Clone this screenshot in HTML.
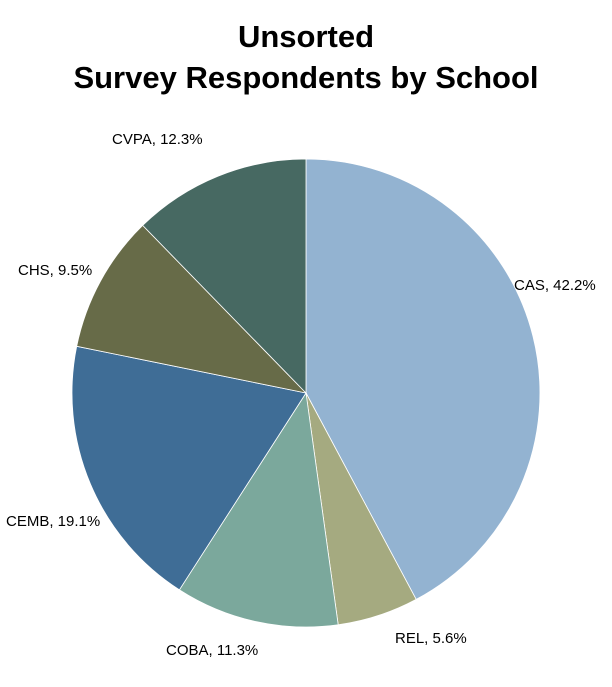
<!DOCTYPE html>
<html><head><meta charset="utf-8"><style>
html,body{margin:0;padding:0;background:#fff;}
svg{display:block;}
text{font-family:"Liberation Sans","DejaVu Sans",sans-serif;fill:#000;}
</style></head><body>
<svg width="612" height="687" viewBox="0 0 612 687" xmlns="http://www.w3.org/2000/svg">
<rect width="612" height="687" fill="#fff"/>
<text x="306" y="47" text-anchor="middle" font-size="31" font-weight="bold">Unsorted</text>
<text x="306" y="88" text-anchor="middle" font-size="31" font-weight="bold">Survey Respondents by School</text>
<g stroke="#fff" stroke-width="0.8">
<path d="M306,393 L306,159 A234,234 0 0 1 416.2,599.4 Z" fill="#93B3D1"/>
<path d="M306,393 L416.2,599.4 A234,234 0 0 1 338.2,624.8 Z" fill="#A5AA80"/>
<path d="M306,393 L338.2,624.8 A234,234 0 0 1 179.4,589.8 Z" fill="#7BA89C"/>
<path d="M306,393 L179.4,589.8 A234,234 0 0 1 76.7,346.3 Z" fill="#3F6D96"/>
<path d="M306,393 L76.7,346.3 A234,234 0 0 1 142.7,225.4 Z" fill="#676B48"/>
<path d="M306,393 L142.7,225.4 A234,234 0 0 1 306,159 Z" fill="#476962"/>
</g>
<g font-size="15">
<text x="514" y="290">CAS, 42.2%</text>
<text x="395" y="643">REL, 5.6%</text>
<text x="166" y="655">COBA, 11.3%</text>
<text x="6" y="526">CEMB, 19.1%</text>
<text x="18" y="275">CHS, 9.5%</text>
<text x="112" y="144">CVPA, 12.3%</text>
</g>
</svg>
</body></html>
